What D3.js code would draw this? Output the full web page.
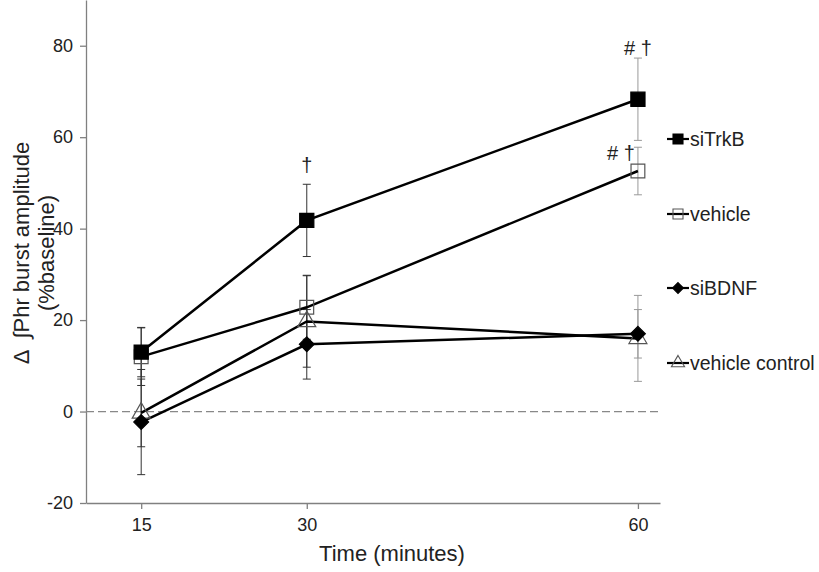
<!DOCTYPE html>
<html><head><meta charset="utf-8">
<script src="https://cdn.jsdelivr.net/npm/d3@7"></script>
<style>body{margin:0;background:#fff}svg{display:block;font-family:"Liberation Sans",Arial,sans-serif}</style>
</head><body><svg id="c" width="819" height="572"></svg>
<script>
const times = [15, 30, 60];
const seriesNames = ["siTrkB", "vehicle", "siBDNF", "vehicle control"];
const siTrkB = [13, 41.8, 68.3];
const siTrkBErr = [5.4, 7.9, 9];
const vehicle = [12, 22.8, 52.6];
const vehicleErr = [6.3, 7, 5.2];
const siBDNF = [-2.3, 14.7, 17];
const siBDNFErr = [11.5, 7.6, 5.3];
const vehicleControl = [-0.3, 19.7, 16];
const vehicleControlErr = [7.4, 10, 9.4];
const yTicks = [-20, 0, 20, 40, 60, 80];
const annotations = [{t: 30, v: 52.3, text: "†"}, {t: 60, v: 78, text: "# †"}, {t: 60, v: 55, text: "# †", dx: -17}];

const svg = d3.select("#c");
const x = d3.scaleLinear().domain([10, 62]).range([86, 660]);
const y = d3.scaleLinear().domain([-20, 90]).range([503, 0]);
const axisColor = "#808080";

// axes
const gy = svg.append("g").attr("transform", "translate(86,0)")
  .call(d3.axisLeft(y).tickValues(yTicks).tickSize(6).tickPadding(7).tickSizeOuter(0));
const gx = svg.append("g").attr("transform", "translate(0,503)")
  .call(d3.axisBottom(x).tickValues(times).tickSize(6).tickPadding(7).tickSizeOuter(0));
gy.selectAll(".tick text").text(d => String(d));
[gy, gx].forEach(g => {
  g.select(".domain").attr("stroke", axisColor).attr("stroke-width", 1.3);
  g.selectAll(".tick line").attr("stroke", axisColor).attr("stroke-width", 1.3);
  g.selectAll(".tick text").attr("fill", "#222").style("font-size", "18px");
});
gx.selectAll(".tick text").attr("dy", "0.85em");

// zero line
svg.append("line").attr("x1", 86).attr("x2", 660).attr("y1", y(0)).attr("y2", y(0))
  .attr("stroke", "#888").attr("stroke-width", 1.2).attr("stroke-dasharray", "8,4");

// axis titles
svg.append("text").attr("x", 392).attr("y", 561).attr("text-anchor", "middle")
  .attr("fill", "#222").style("font-size", "22px").text("Time (minutes)");
const yt = svg.append("text").attr("transform", "translate(29,253) rotate(-90)")
  .attr("text-anchor", "middle").attr("fill", "#222").style("font-size", "22px");
yt.append("tspan").attr("x", 0).attr("dy", 0).text("Δ\u2002∫Phr burst amplitude");
yt.append("tspan").attr("x", 0).attr("dy", 25).text("(%baseline)");

const data = [
  {name: "vehicle control", vals: vehicleControl, err: vehicleControlErr, shape: d3.symbolTriangle, fill: "none", stroke: "#555", size: 140, lsize: 75},
  {name: "vehicle", vals: vehicle, err: vehicleErr, shape: d3.symbolSquare, fill: "none", stroke: "#555", size: 190, lsize: 100},
  {name: "siBDNF", vals: siBDNF, err: siBDNFErr, shape: d3.symbolDiamond2, fill: "#000", stroke: "#000", size: 140, lsize: 75},
  {name: "siTrkB", vals: siTrkB, err: siTrkBErr, shape: d3.symbolSquare, fill: "#000", stroke: "#000", size: 200, lsize: 100}
];

// error bars
data.forEach(s => {
  const g = svg.append("g");
  times.forEach((t, i) => {
    const cx = x(t), hi = y(s.vals[i] + s.err[i]), lo = y(s.vals[i] - s.err[i]);
    const col = t === 60 ? "#999" : "#333";
    g.append("line").attr("x1", cx).attr("x2", cx).attr("y1", hi).attr("y2", lo).attr("stroke", col).attr("stroke-width", 1);
    [hi, lo].forEach(yy => g.append("line").attr("x1", cx-4).attr("x2", cx+4).attr("y1", yy).attr("y2", yy).attr("stroke", col).attr("stroke-width", 1));
  });
});

// lines
const line = d3.line().x((d, i) => x(times[i])).y(d => y(d));
data.forEach(s => {
  svg.append("path").datum(s.vals).attr("d", line).attr("fill", "none").attr("stroke", "#000").attr("stroke-width", 2.5);
});
// markers
data.forEach(s => {
  svg.append("g").selectAll("path").data(s.vals).join("path")
    .attr("transform", (d, i) => `translate(${x(times[i])},${y(d)})`)
    .attr("d", d3.symbol().type(s.shape).size(s.size))
    .attr("fill", s.fill).attr("stroke", s.stroke).attr("stroke-width", 1.2);
});

// annotations
svg.append("g").selectAll("text").data(annotations).join("text")
  .attr("x", d => x(d.t) + (d.dx || 0)).attr("y", d => y(d.v)).attr("text-anchor", "middle")
  .attr("fill", "#222").style("font-size", "20px").text(d => d.text);

// legend
const legendY = [139, 214, 288, 363];
const leg = svg.append("g");
seriesNames.forEach((n, i) => {
  const s = data.find(d => d.name === n);
  const g = leg.append("g").attr("transform", `translate(0,${legendY[i]})`);
  g.append("line").attr("x1", 667).attr("x2", 689).attr("y1", 0).attr("y2", 0).attr("stroke", "#000").attr("stroke-width", 2.2);
  g.append("path").attr("transform", "translate(678,0)").attr("d", d3.symbol().type(s.shape).size(s.lsize))
    .attr("fill", s.fill).attr("stroke", s.stroke).attr("stroke-width", 1.1);
  g.append("text").attr("x", 690).attr("y", 0).attr("dy", "0.35em").attr("fill", "#222")
    .style("font-size", "19.5px").text(n);
});
</script></body></html>
